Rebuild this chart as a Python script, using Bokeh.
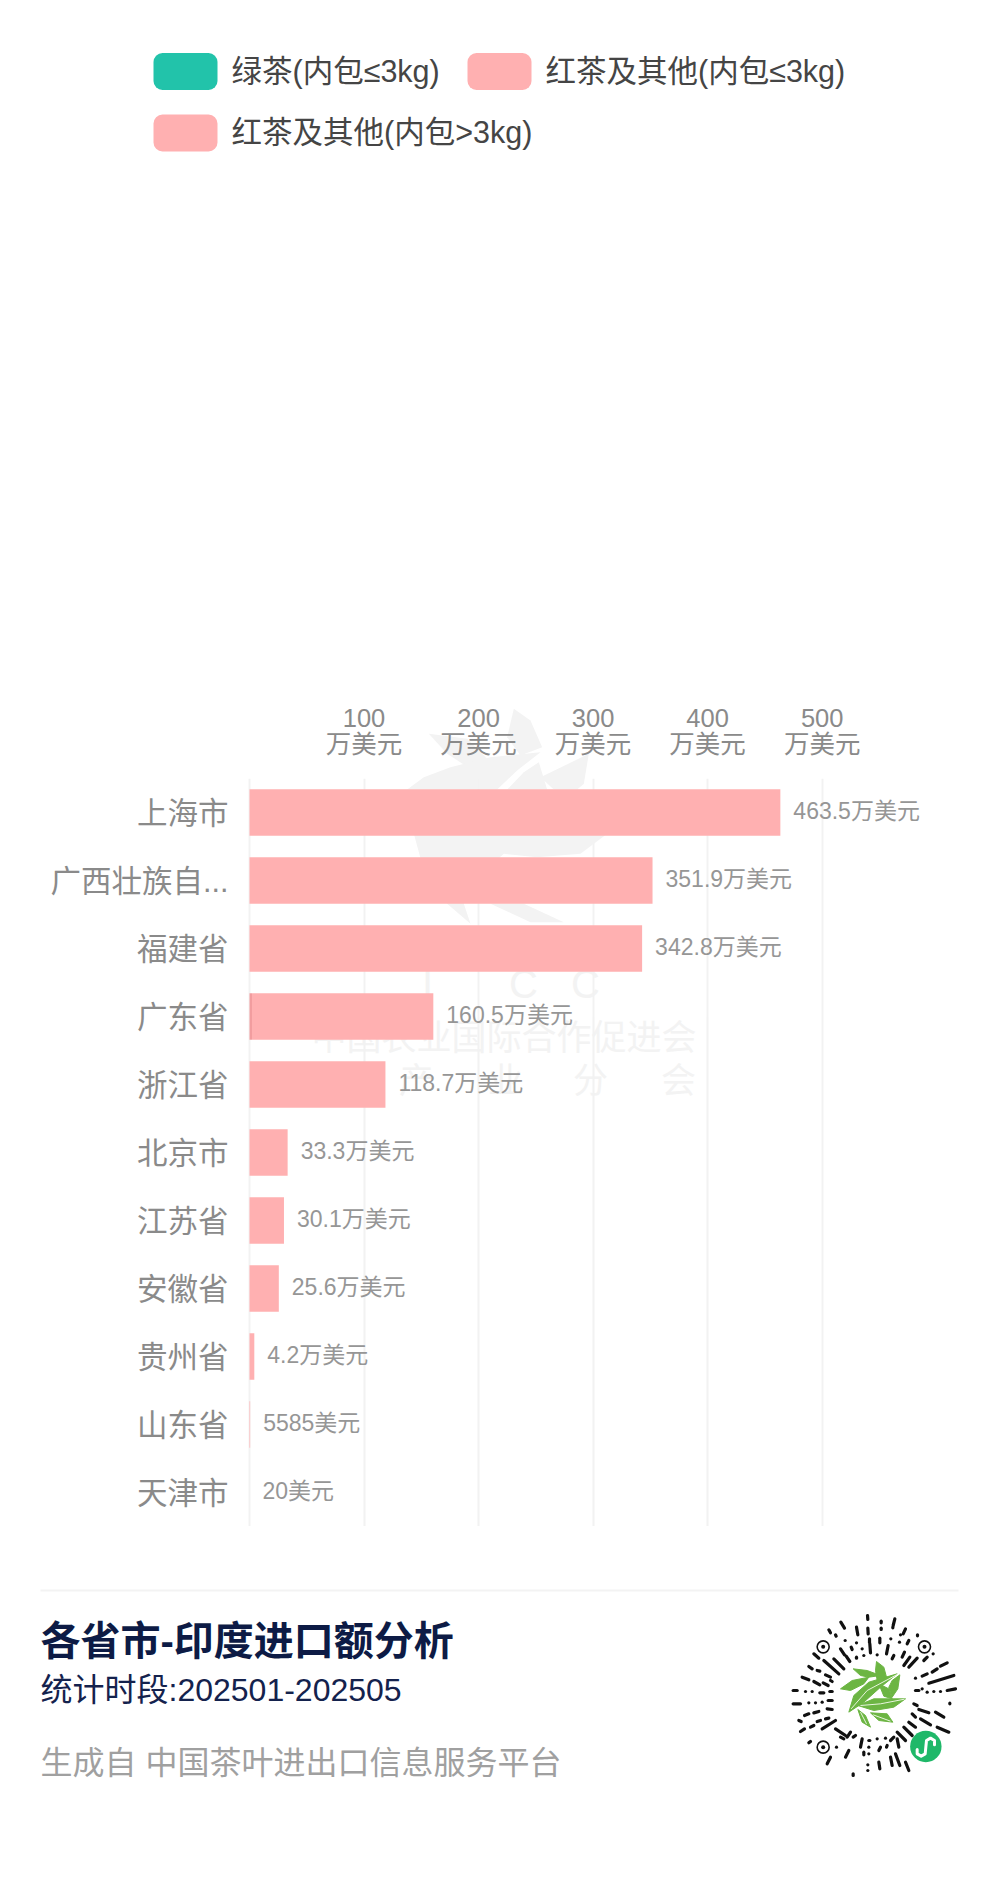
from bokeh.plotting import figure
from bokeh.embed import file_html
from bokeh.resources import INLINE
from bokeh.core.properties import value
from bokeh.models import (ColumnDataSource, Range1d, FixedTicker, LinearAxis,
                          BoxAnnotation, PolyAnnotation)

# ---------- data ----------
provinces = ["上海市", "广西壮族自...", "福建省", "广东省", "浙江省", "北京市",
             "江苏省", "安徽省", "贵州省", "山东省", "天津市"]
green_le3 = [0, 0, 0, 2.2, 0, 0, 0, 0, 0, 0, 0]
red_le3 = [0, 0, 0, 0, 0, 0, 0, 0, 0, 0, 0]
red_gt3 = [463.5, 351.9, 342.8, 158.3, 118.7, 33.3, 30.1, 25.6, 4.2, 0.5585, 0.002]
value_labels = ["463.5万美元", "351.9万美元", "342.8万美元", "160.5万美元", "118.7万美元",
                "33.3万美元", "30.1万美元", "25.6万美元", "4.2万美元", "5585美元", "20美元"]
x_ticks = [100, 200, 300, 400, 500]
x_unit = "万美元"
legend_names = ["绿茶(内包≤3kg)", "红茶及其他(内包≤3kg)", "红茶及其他(内包>3kg)"]
legend_colors = ["#22c3aa", "#ffb0b1", "#ffb0b1"]
title_text = "各省市-印度进口额分析"
period_text = "统计时段:202501-202505"
source_text = "生成自 中国茶叶进出口信息服务平台"
wm_line1 = "中国农业国际合作促进会"
wm_line2 = ["产", "业", "分", "会"]
wm_icc = ["I", "C", "C"]

# decorative mini-program code, in units of a 3x crop
QR_STROKES = [
    (261,30,262,42),(302,47,302,52),(343,40,338,60),(181,50,192,68),(228,65,232,88),(262,68,263,85),
    (302,68,302,72),(337,65,337,67),(375,70,368,85),(145,73,150,82),(411,88,411,91),(165,88,167,92),
    (194,105,194,105),(228,112,228,112),(267,100,267,110),(298,98,298,112),(331,100,331,100),(360,88,360,88),
    (212,125,215,132),(245,130,245,130),(268,115,270,142),(323,120,318,145),(357,110,357,110),(385,105,380,115),
    (180,130,192,148),(100,145,115,158),(130,165,175,205),(160,160,190,190),(197,152,208,168),(228,155,228,158),
    (250,150,250,150),(290,148,290,148),(340,150,335,160),(372,140,365,155),(388,155,370,180),(410,158,385,185),
    (440,155,430,165),(458,145,458,145),(500,172,480,182),(470,190,455,200),(440,205,425,212),(405,218,405,218),
    (520,210,445,233),(425,250,425,250),(440,260,440,260),(460,258,460,258),(480,258,480,258),(500,255,525,250),
    (405,255,415,255),(508,293,508,295),(410,300,400,295),(415,312,445,322),(465,320,490,335),(395,325,405,335),
    (420,340,450,358),(470,365,505,380),(385,350,405,365),(370,365,395,390),(350,380,375,405),(85,183,95,190),
    (110,195,118,197),(135,208,150,215),(65,215,85,223),(100,228,118,238),(128,232,143,240),(150,225,155,228),
    (38,255,50,255),(75,258,75,258),(95,258,95,258),(118,262,130,262),(148,258,155,258),(38,295,60,295),
    (85,292,85,292),(105,292,105,292),(125,290,125,290),(143,285,155,285),(72,330,85,325),(100,322,115,318),
    (140,310,155,312),(55,345,62,348),(110,348,120,345),(135,340,145,338),(60,378,72,370),(90,365,100,360),
    (125,370,165,345),(165,370,195,390),(85,412,90,408),(150,455,140,475),(168,425,168,425),(205,435,195,455),
    (245,400,240,425),(225,390,218,395),(250,440,250,448),(265,405,268,405),(265,425,265,425),(265,445,265,445),
    (262,478,262,478),(262,495,262,495),(218,505,218,510),(300,425,295,435),(295,470,298,490),(330,455,335,480),
    (350,400,355,425),(315,398,315,398),(320,420,318,425),(375,470,385,495),(345,445,358,480),(290,400,290,400),
    (210,380,200,395),(180,395,190,400),(330,405,340,395),
]
QR_FINDERS = [(128,124),(432,124),(128,425)]
QR_LEAVES = [
    [(180,250),(215,225),(265,215),(250,235),(210,255)],
    [(205,320),(220,270),(265,230),(350,205),(300,245),(250,290)],
    [(288,168),(310,185),(318,215),(290,225),(285,195)],
    [(218,190),(260,195),(300,210),(265,215),(240,210)],
    [(358,208),(352,250),(335,275),(325,245),(335,225)],
    [(295,235),(325,250),(335,280),(310,272)],
    [(232,300),(280,280),(375,280),(340,305),(280,315)],
    [(232,312),(255,330),(270,365),(245,350)],
    [(270,322),(320,325),(337,350),(295,345)],
]
QR_RIBS = [[(212,310),(260,255),(350,207)],[(240,300),(300,295),(372,281)],[(240,320),(258,355)],[(278,328),(330,347)]]
QR_S = [(410,432),(410,445),(422,452),(434,445),(436,425),(438,405),(450,398),(462,405),(462,418)]
WM_LEAVES_TOP = [
    [(670,55),(720,90),(755,170),(690,195),(650,140)],
    [(415,130),(530,145),(600,215),(540,235),(470,190)],
    [(350,297),(400,260),(480,230),(600,200),(750,185),(680,240),(620,297)],
    [(895,190),(880,280),(860,297),(790,297),(750,260)],
    [(700,245),(745,215),(770,297),(650,297)],
]
WM_LEAVES = [
    [(370,430),(950,430),(870,490),(740,500),(640,490),(560,560),(520,640),(540,700),(470,640),(400,540)],
    [(600,640),(700,640),(820,695),(720,695)],
]

FONT = "Liberation Sans, Noto Sans CJK SC"
X_MAX = 640
PAD = 3 * X_MAX / 733  # lets the gridline at zero be drawn whole
WM = "#f3f3f3"

def blank(height, y_top, y_bottom):
    f = figure(width=984, height=height, output_backend="svg", toolbar_location=None,
               x_range=Range1d(0, 984), y_range=Range1d(y_bottom, y_top),
               min_border=0, outline_line_color=None, background_fill_color=None,
               border_fill_color=None)
    f.axis.visible = False
    f.grid.visible = False
    return f

# ---------- legend (its figure runs on under the chart's top margin) ----------
top = blank(800, 0, 800)
top.patches([[290 + x / 3 for x, _ in l] for l in WM_LEAVES_TOP],
            [[690 + y / 3 for _, y in l] for l in WM_LEAVES_TOP],
            fill_color=WM, line_color=None)
legend_x = [153, 467, 153]
legend_y = [71, 71, 132.5]
for name, col, lx, ly in zip(legend_names, legend_colors, legend_x, legend_y):
    top.add_layout(BoxAnnotation(left=lx, right=lx + 64, top=ly - 18.5, bottom=ly + 18.5,
                                 fill_color=col, fill_alpha=1, line_color=None, border_radius=9))
    top.text([lx + 78], [ly - 1], text=[name], text_font=value(FONT), text_font_size="30.5px",
             text_color="#454545", text_baseline="middle", text_align="left")

# ---------- chart ----------
idx = list(range(len(provinces)))
totals = [g + a + b for g, a, b in zip(green_le3, red_le3, red_gt3)]
src = ColumnDataSource(dict(
    pos=idx,
    g0=[0] * 11, g1=green_le3,
    a1=[g + a for g, a in zip(green_le3, red_le3)],
    total=totals, label=value_labels))

p = figure(width=984, height=836, output_backend="svg", toolbar_location=None,
           x_range=Range1d(-PAD, X_MAX), y_range=Range1d(len(provinces) - 0.5, -0.5),
           x_axis_location=None, min_border_left=246, min_border_right=2,
           min_border_top=88, min_border_bottom=0, outline_line_color=None,
           background_fill_color=None, border_fill_color=None,
           margin=(-110, 0, 0, 0))
p.extra_x_ranges["page"] = Range1d(246, 982)
p.extra_y_ranges["page"] = Range1d(1526, 778)

for labels, standoff in (({t: x_unit for t in x_ticks}, 15), ({t: str(t) for t in x_ticks}, -6)):
    ax = LinearAxis(ticker=FixedTicker(ticks=x_ticks), major_label_overrides=labels,
                    major_label_standoff=standoff, major_label_text_font=FONT,
                    major_label_text_font_size="25.5px", major_label_text_color="#8a8a8a",
                    axis_line_color=None, major_tick_line_color=None, minor_tick_line_color=None)
    p.add_layout(ax, "above")

p.yaxis.ticker = FixedTicker(ticks=idx)
p.yaxis.major_label_overrides = {i: c for i, c in zip(idx, provinces)}
p.yaxis.major_label_text_font = FONT
p.yaxis.major_label_text_font_size = "30.5px"
p.yaxis.major_label_text_color = "#8a8a8a"
p.yaxis.major_label_standoff = 12
p.yaxis.axis_line_color = None
p.yaxis.major_tick_line_color = None
p.yaxis.minor_tick_line_color = None

p.ygrid.visible = False
p.xgrid.ticker = FixedTicker(ticks=[0] + x_ticks)
p.xgrid.grid_line_color = "#f2f2f2"
p.xgrid.grid_line_width = 2

# watermark parts inside the plot area
to_x = lambda page_x: (page_x - 249) / 733 * X_MAX
to_y = lambda page_y: (page_y - 778) / 68 - 0.5
for leaf in WM_LEAVES:
    xs = [to_x(290 + x / 3) for x, _ in leaf]
    ys = [to_y(690 + y / 3) for _, y in leaf]
    p.add_layout(PolyAnnotation(xs=xs, ys=ys, fill_color=WM, fill_alpha=1, line_color=None, level="underlay"))
p.text([427, 523, 585], [983] * 3, text=wm_icc, x_range_name="page", y_range_name="page",
       text_font=value(FONT), text_font_size="40px", text_color=WM, text_align="center",
       text_baseline="middle", level="image")
p.text([503.5], [1037], text=[wm_line1], x_range_name="page", y_range_name="page",
       text_font=value(FONT), text_font_size="35px", text_color=WM, text_align="center",
       text_baseline="middle", level="image")
p.text([416, 505, 590, 678], [1080] * 4, text=wm_line2, x_range_name="page", y_range_name="page",
       text_font=value(FONT), text_font_size="35px", text_color=WM, text_align="center",
       text_baseline="middle", level="image")

BAR_H = 0.684
p.hbar(y="pos", left="a1", right="total", height=BAR_H, source=src,
       fill_color=legend_colors[2], line_color=None)
p.hbar(y="pos", left="g1", right="a1", height=BAR_H, source=src,
       fill_color=legend_colors[1], line_color=None)
p.hbar(y="pos", left="g0", right="g1", height=BAR_H, source=src,
       fill_color="#f29d9f", line_color=None)
p.text(x="total", y="pos", text="label", source=src, x_offset=13, y_offset=-2,
       text_font=value(FONT), text_font_size="23px", text_color="#969696",
       text_baseline="middle", text_align="left")

# ---------- footer ----------
foot = blank(364, 1526, 1890)
foot.line([40, 958], [1590, 1590], line_color="#f3f3f3", line_width=2)
foot.text([40], [1640], text=[title_text], text_font=value(FONT), text_font_size="40px",
          text_font_style="bold", text_color="#0d1b45", text_baseline="middle")
foot.text([40], [1689], text=[period_text], text_font=value(FONT), text_font_size="32px",
          text_color="#14224d", text_baseline="middle")
foot.text([40], [1762], text=[source_text], text_font=value(FONT), text_font_size="32px",
          text_color="#a0a0a0", text_baseline="middle")

qx = lambda v: 780 + v / 3
qy = lambda v: 1605 + v / 3
foot.segment([qx(s[0]) for s in QR_STROKES], [qy(s[1]) for s in QR_STROKES],
             [qx(s[2]) for s in QR_STROKES], [qy(s[3]) for s in QR_STROKES],
             line_color="#111111", line_width=3.2, line_cap="round")
fx = [qx(c[0]) for c in QR_FINDERS]
fy = [qy(c[1]) for c in QR_FINDERS]
foot.circle(fx, fy, radius=6, radius_units="screen", fill_color=None, line_color="#111111", line_width=1.6)
foot.circle(fx, fy, radius=2, radius_units="screen", fill_color="#111111", line_color=None)
foot.patches([[qx(x) for x, _ in l] for l in QR_LEAVES], [[qy(y) for _, y in l] for l in QR_LEAVES],
             fill_color="#6cb543", line_color="#6cb543", line_width=1)
foot.multi_line([[qx(x) for x, _ in l] for l in QR_RIBS], [[qy(y) for _, y in l] for l in QR_RIBS],
                line_color="#e8f5dd", line_width=1)
foot.circle([qx(436)], [qy(423)], radius=15.7, radius_units="screen", fill_color="#1fb869", line_color=None)
foot.line([qx(x) for x, _ in QR_S], [qy(y) for _, y in QR_S], line_color="#ffffff", line_width=3,
          line_join="round", line_cap="round")

open("out.html", "w").write(file_html([top, p, foot], INLINE))
